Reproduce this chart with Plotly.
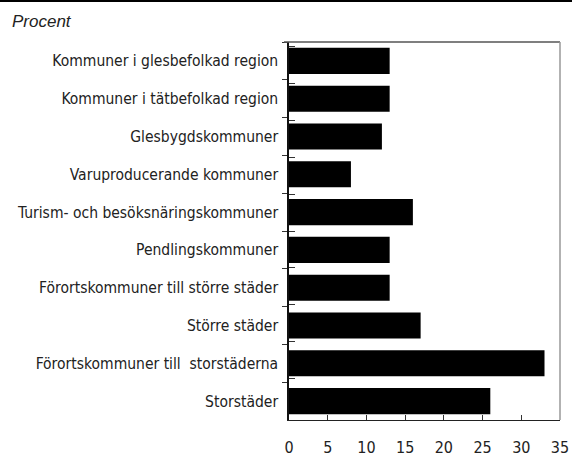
import plotly.graph_objects as go

categories = [
    "Kommuner i glesbefolkad region",
    "Kommuner i tätbefolkad region",
    "Glesbygdskommuner",
    "Varuproducerande kommuner",
    "Turism- och besöksnäringskommuner",
    "Pendlingskommuner",
    "Förortskommuner till större städer",
    "Större städer",
    "Förortskommuner till  storstäderna",
    "Storstäder",
]
values = [13, 13, 12, 8, 16, 13, 13, 17, 33, 26]
x_ticks = [0, 5, 10, 15, 20, 25, 30, 35]

FONT = "DejaVu Sans Condensed, Liberation Sans Narrow, sans-serif"

W, H = 572, 456
L, R, T, B = 289, 12, 42, 36
PW, PH = W - L - R, H - T - B


def px_x(px):
    return (px - L) / PW


def px_y(py):
    return (H - B - py) / PH


fig = go.Figure()
fig.add_trace(go.Bar(
    x=values, y=categories, orientation="h",
    marker=dict(color="black", line=dict(width=0)),
    hoverinfo="x+y", showlegend=False,
))
# invisible helper trace for the inner half of the crossing y ticks
fig.add_trace(go.Scatter(
    x=[None] * len(categories), y=categories, yaxis="y2",
    mode="markers", showlegend=False, hoverinfo="skip",
))

fig.update_layout(
    width=W, height=H,
    margin=dict(l=L, r=R, t=T, b=B, autoexpand=False),
    paper_bgcolor="white", plot_bgcolor="white",
    bargap=0.31,
    font=dict(family=FONT, size=15, color="#222"),
    xaxis=dict(
        range=[0, 35], tickvals=x_ticks, ticktext=[str(v) for v in x_ticks],
        ticks="inside", ticklen=5, tickcolor="#333", tickwidth=1,
        showline=True, linecolor="#222", linewidth=1,
        showgrid=False, zeroline=False,
        ticklabelstandoff=13,
        tickfont=dict(family=FONT, size=16, color="#222"),
        automargin=False,
        fixedrange=True,
    ),
    yaxis=dict(
        categoryorder="array", categoryarray=categories, autorange="reversed",
        tickson="boundaries", ticks="outside", ticklen=5, tickcolor="#333",
        showline=True, linecolor="#111", linewidth=1.5,
        showgrid=False, zeroline=False,
        tickfont=dict(family=FONT, size=15.5, color="#222"),
        ticklabelstandoff=6,
        automargin=False,
        fixedrange=True,
    ),
    yaxis2=dict(
        overlaying="y", side="left",
        categoryorder="array", categoryarray=categories, autorange="reversed",
        tickson="boundaries", ticks="inside", ticklen=6, tickcolor="#333",
        showticklabels=False, showline=False, showgrid=False, zeroline=False,
        automargin=False,
        fixedrange=True,
    ),
    shapes=[
        dict(type="line", xref="paper", yref="paper", x0=px_x(284), x1=1, y0=1, y1=1,
             line=dict(color="#555", width=1.5)),
        dict(type="line", xref="paper", yref="paper", x0=1, x1=1, y0=0, y1=1,
             line=dict(color="#999", width=1.5)),
        dict(type="rect", xref="paper", yref="paper", x0=px_x(0), x1=px_x(W),
             y0=px_y(2), y1=px_y(0), fillcolor="black", line=dict(width=0), layer="above"),
    ],
    annotations=[
        dict(text="<i>Procent</i>", xref="paper", yref="paper", x=px_x(10), y=px_y(22),
             xanchor="left", yanchor="middle", showarrow=False,
             font=dict(family="Liberation Sans, Arial, sans-serif", size=17, color="#222")),
    ],
)

fig.write_html(
    "out.html",
    config={"displayModeBar": False},
    post_script="document.body.style.margin='0';document.body.style.overflow='hidden';",
)
